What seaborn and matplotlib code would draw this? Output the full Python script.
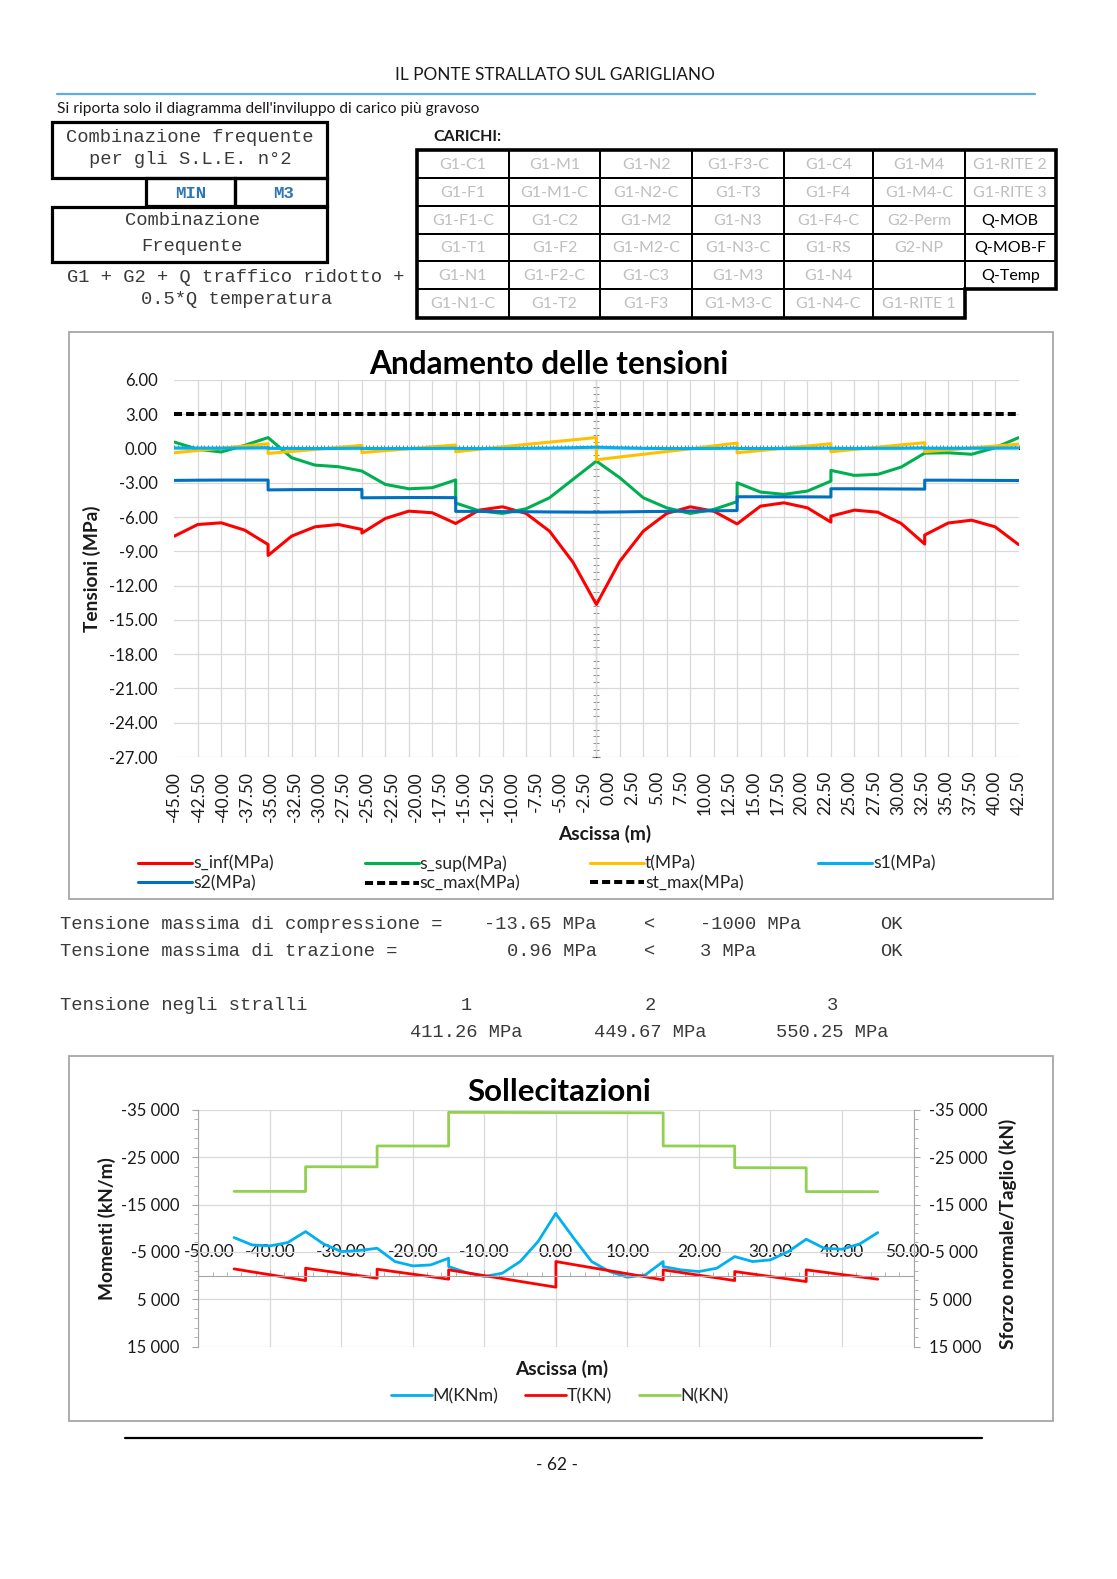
import numpy as np
import matplotlib
matplotlib.use("Agg")
import matplotlib.pyplot as plt
import matplotlib.transforms as mtransforms
from matplotlib.ticker import FixedLocator
from matplotlib.patches import Rectangle, Polygon
import seaborn as sns

# ------------------------------------------------------------------ data
# abscissa (m) with double points at section changes
x_pos = [-45, -42.5, -40, -37.5, -35,
         -35, -32.5, -30, -27.5, -25,
         -25, -22.5, -20, -17.5, -15,
         -15, -12.5, -10, -7.5, -5, -2.5, 0,
         0, 2.5, 5, 7.5, 10, 12.5, 15,
         15, 17.5, 20, 22.5, 25,
         25, 27.5, 30, 32.5, 35,
         35, 37.5, 40, 42.5, 45]

s_inf = [-7.67, -6.65, -6.50, -7.14, -8.40,
         -9.36, -7.67, -6.85, -6.65, -7.08,
         -7.40, -6.12, -5.48, -5.62, -6.56,
         -6.56, -5.39, -5.10, -5.68, -7.23, -9.95, -13.65,
         -13.65, -9.86, -7.23, -5.68, -5.10, -5.48, -6.60,
         -6.60, -5.04, -4.75, -5.19, -6.44,
         -5.92, -5.39, -5.57, -6.56, -8.36,
         -7.57, -6.52, -6.27, -6.85, -8.40]

s_sup = [0.57, -0.07, -0.30, 0.28, 0.96,
         0.96, -0.80, -1.45, -1.59, -1.97,
         -1.97, -3.14, -3.52, -3.43, -2.75,
         -4.77, -5.45, -5.68, -5.27, -4.31, -2.70, -1.10,
         -1.10, -2.56, -4.31, -5.19, -5.68, -5.33, -4.65,
         -3.00, -3.81, -4.01, -3.72, -2.85,
         -1.91, -2.35, -2.26, -1.62, -0.40,
         -0.40, -0.37, -0.50, 0.07, 0.95]

t_val = [-0.37, -0.17, 0.03, 0.22, 0.42,
         -0.43, -0.25, -0.08, 0.10, 0.28,
         -0.35, -0.18, -0.02, 0.15, 0.31,
         -0.28, -0.06, 0.15, 0.36, 0.56, 0.76, 0.96,
         -0.98, -0.74, -0.50, -0.26, -0.02, 0.23, 0.48,
         -0.37, -0.17, 0.03, 0.22, 0.42,
         -0.28, -0.08, 0.12, 0.32, 0.51,
         -0.28, -0.11, 0.05, 0.22, 0.38]

s1_val = [0.05, 0.04, 0.03, 0.05, 0.08,
          0.02, 0.01, 0.00, 0.01, 0.03,
          0.01, 0.00, 0.00, 0.01, 0.03,
          0.01, 0.00, 0.00, 0.02, 0.04, 0.07, 0.12,
          0.12, 0.06, 0.02, 0.00, 0.00, 0.01, 0.04,
          0.01, 0.00, 0.01, 0.02, 0.04,
          0.02, 0.01, 0.02, 0.03, 0.06,
          0.03, 0.02, 0.03, 0.04, 0.06]

s2_val = [-2.79, -2.77, -2.76, -2.76, -2.76,
          -3.62, -3.60, -3.59, -3.59, -3.58,
          -4.31, -4.30, -4.29, -4.29, -4.30,
          -5.50, -5.50, -5.52, -5.53, -5.55, -5.56, -5.57,
          -5.57, -5.55, -5.52, -5.50, -5.47, -5.45, -5.43,
          -4.22, -4.22, -4.23, -4.23, -4.24,
          -3.52, -3.52, -3.53, -3.54, -3.55,
          -2.77, -2.77, -2.78, -2.79, -2.80]

limit_x = [-45, 45]
sc_max = [-1000, -1000]
st_max = [3, 3]

# internal actions
M_val = [-8030, -6480, -6270, -6970, -9300,
         -9300, -6690, -5070, -5300, -5770,
         -5770, -2960, -2040, -2250, -3660,
         -1900, -630, 200, -490, -2960, -7180, -13170,
         -13030, -7890, -2960, -850, 350, -140, -2960,
         -1900, -1200, -850, -1550, -4010,
         -4010, -2960, -3310, -5070, -7680,
         -7680, -5770, -5560, -6690, -9080]

T_val = [-1410, -790, -180, 440, 1060,
         -1550, -1020, -500, 30, 560,
         -1340, -810, -290, 240, 770,
         -1200, -590, 20, 630, 1240, 1850, 2460,
         -2960, -2310, -1670, -1020, -380, 270, 920,
         -1200, -640, -70, 490, 1060,
         -850, -320, 210, 740, 1270,
         -1200, -710, -210, 280, 770]

N_val = [-17800, -17800, -17790, -17790, -17780,
         -23000, -23000, -22990, -22990, -22980,
         -27400, -27400, -27390, -27390, -27380,
         -34500, -34500, -34490, -34480, -34470, -34460, -34450,
         -34450, -34440, -34440, -34430, -34420, -34410, -34400,
         -27400, -27390, -27390, -27380, -27380,
         -22800, -22800, -22790, -22790, -22780,
         -17750, -17750, -17740, -17740, -17730]

x_tick_labels1 = np.arange(-45.0, 45.0, 2.5)        # 36 labels shown
y_ticks1 = np.arange(-27, 6.01, 3)
x_ticks2 = np.arange(-50, 50.01, 10)
y_ticks2 = [-35000, -25000, -15000, -5000, 5000, 15000]

table_labels = [
    ["G1-C1", "G1-M1", "G1-N2", "G1-F3-C", "G1-C4", "G1-M4", "G1-RITE 2"],
    ["G1-F1", "G1-M1-C", "G1-N2-C", "G1-T3", "G1-F4", "G1-M4-C", "G1-RITE 3"],
    ["G1-F1-C", "G1-C2", "G1-M2", "G1-N3", "G1-F4-C", "G2-Perm", "Q-MOB"],
    ["G1-T1", "G1-F2", "G1-M2-C", "G1-N3-C", "G1-RS", "G2-NP", "Q-MOB-F"],
    ["G1-N1", "G1-F2-C", "G1-C3", "G1-M3", "G1-N4", "", "Q-Temp"],
    ["G1-N1-C", "G1-T2", "G1-F3", "G1-M3-C", "G1-N4-C", "G1-RITE 1"],
]
active_loads = ["Q-MOB", "Q-MOB-F", "Q-Temp"]

sig_c_max, sig_c_lim = -13.65, -1000
sig_t_max, sig_t_lim = 0.96, 3
stralli_id = [1, 2, 3]
stralli_val = [411.26, 449.67, 550.25]

# ------------------------------------------------------------------ style
sns.set_style("white")
plt.rcParams['font.family'] = ['Lato', 'DejaVu Sans']
plt.rcParams['axes.unicode_minus'] = False
MONO = ['Liberation Mono', 'DejaVu Sans Mono']
TXT = '#1a1a1a'
MTXT = '#3a3a3a'
GRID = '#D9D9D9'
AXLAB = 13.8

W, H = 1117, 1579
fig = plt.figure(figsize=(W / 100, H / 100), dpi=100)
fig.patch.set_facecolor('white')


def rect(x0, y0, x1, y1):
    return [x0 / W, 1 - y1 / H, (x1 - x0) / W, (y1 - y0) / H]


page = fig.add_axes([0, 0, 1, 1], zorder=0)
page.set_xlim(0, W)
page.set_ylim(H, 0)
page.axis('off')

# header
page.text(555, 75.5, "IL PONTE STRALLATO SUL GARIGLIANO", ha='center', va='center',
          fontsize=12.4, color=TXT)
page.plot([57.4, 1035.4], [93.7, 93.7], color='#5DADE2', lw=1.6)
page.text(57.4, 108.5, "Si riporta solo il diagramma dell'inviluppo di carico più gravoso",
          ha='left', va='center', fontsize=11.2, color=TXT)

# left boxes
bw = 2.3
page.add_patch(Rectangle((52.4, 121.9), 274.9, 56.4, fill=False, ec='black', lw=bw))
page.add_patch(Rectangle((146, 178.3), 88.7, 28.2, fill=False, ec='black', lw=bw))
page.add_patch(Rectangle((234.7, 178.3), 92.6, 28.2, fill=False, ec='black', lw=bw))
page.add_patch(Rectangle((52.4, 206.5), 274.9, 55.4, fill=False, ec='black', lw=bw))
mk = dict(ha='center', va='center', family=MONO, fontsize=13.5, color=MTXT)
page.text(190, 138, "Combinazione frequente", **mk)
page.text(190, 159, "per gli S.L.E. n°2", **mk)
page.text(191, 193.4, "MIN", ha='center', va='center', family=MONO, fontsize=12.5,
          fontweight='bold', color='#2E75B6')
page.text(283, 193.4, "M3", ha='center', va='center', family=MONO, fontsize=12.5,
          fontweight='bold', color='#2E75B6')
page.text(192, 220.6, "Combinazione", **mk)
page.text(192, 246.8, "Frequente", **mk)
page.text(236, 278, "G1 + G2 + Q traffico ridotto +", **mk)
page.text(237, 299, "0.5*Q temperatura", **mk)

# loads table
page.text(433, 137, "CARICHI:", ha='left', va='center', fontsize=11.5,
          fontweight='bold', color=TXT)
col_x = [417.0, 508.6, 600.3, 692.0, 783.6, 873.2, 964.9, 1055.5]
row_y = [149.5, 178.0, 206.0, 233.5, 261.0, 289.0, 318.0]
for r, row in enumerate(table_labels):
    for c, lab in enumerate(row):
        x0, x1 = col_x[c], col_x[c + 1]
        y0, y1 = row_y[r], row_y[r + 1]
        page.add_patch(Rectangle((x0, y0), x1 - x0, y1 - y0, fill=False,
                                 ec='black', lw=1.4))
        if lab:
            col = 'black' if lab in active_loads else '#BFBFBF'
            page.text((x0 + x1) / 2, (y0 + y1) / 2 + 1, lab, ha='center',
                      va='center', fontsize=11.5, color=col)
outline = [(col_x[0], row_y[0]), (col_x[7], row_y[0]), (col_x[7], row_y[5]),
           (col_x[6], row_y[5]), (col_x[6], row_y[6]), (col_x[0], row_y[6])]
page.add_patch(Polygon(outline, closed=True, fill=False, ec='black', lw=2.6))

# chart frames
page.add_patch(Rectangle((68.5, 332.4), 984, 567, fill=False, ec='#A6A6A6', lw=1.3))
page.add_patch(Rectangle((68.5, 1055.5), 984, 365.5, fill=False, ec='#A6A6A6', lw=1.3))
page.text(549, 364, "Andamento delle tensioni", ha='center', va='center',
          fontsize=22.8, fontweight='bold', color='black')
page.text(559, 1092, "Sollecitazioni", ha='center', va='center',
          fontsize=22.5, fontweight='bold', color='black')

# ------------------------------------------------------------------ chart 1
ax1 = fig.add_axes(rect(174.3, 380, 1018.5, 757), zorder=2)
ax1.set_facecolor('none')
series1 = [("s_inf(MPa)", s_inf, "#FF0000"),
           ("s_sup(MPa)", s_sup, "#00B050"),
           ("t(MPa)", t_val, "#FFC000"),
           ("s1(MPa)", s1_val, "#00B0F0"),
           ("s2(MPa)", s2_val, "#0070C0")]
h1 = {}
for name, vals, col in series1:
    sns.lineplot(x=x_pos, y=vals, ax=ax1, color=col, lw=2.2, estimator=None,
                 sort=False, legend=False)
    ln = ax1.lines[-1]
    ln.set_label(name)
    h1[name] = ln
for name, vals in [("sc_max(MPa)", sc_max), ("st_max(MPa)", st_max)]:
    sns.lineplot(x=limit_x, y=vals, ax=ax1, color='black', lw=2.9,
                 estimator=None, sort=False, legend=False)
    ln = ax1.lines[-1]
    ln.set_dashes((2.0, 1.0))
    ln.set_label(name)
    h1[name] = ln

ax1.set_xlim(-45, 45)
ax1.set_ylim(-27, 6)
ax1.set_yticks(y_ticks1)
ax1.set_yticklabels([f"{v:.2f}" for v in y_ticks1])
lab_pos = np.linspace(-45, 45, len(x_tick_labels1))
ax1.set_xticks(lab_pos)
ax1.set_xticklabels([f"{v:.2f}" for v in x_tick_labels1], rotation=90)
ax1.set_xticks(np.arange(-45, 45.01, 2.5), minor=True)
ax1.tick_params(axis='both', which='both', length=0, labelsize=12, labelcolor=TXT)
ax1.tick_params(axis='x', labelsize=12.5)
ax1.tick_params(axis='y', pad=12)
ax1.tick_params(axis='x', pad=10)
ax1.grid(False)
ax1.grid(True, which='minor', axis='x', color=GRID, lw=0.9)
ax1.grid(True, which='major', axis='y', color=GRID, lw=0.9)
ax1.set_axisbelow(True)
for s in ax1.spines.values():
    s.set_visible(False)
ax1.set_ylabel("Tensioni (MPa)", fontsize=AXLAB, fontweight='bold', color=TXT)
ax1.yaxis.set_label_coords(-0.0868, 0.5)
ax1.set_xlabel("Ascissa (m)", fontsize=AXLAB, fontweight='bold', color=TXT)
ax1.xaxis.set_label_coords(0.51, -0.181)

# zero axes drawn through the origin
sy = ax1.secondary_yaxis(0.5)
sy.set_yticks(y_ticks1)
sy.set_yticklabels([])
sy.yaxis.set_minor_locator(FixedLocator(np.arange(-27, 6.01, 0.6)))
sy.tick_params(which='major', direction='inout', length=6, color='#7F7F7F')
sy.tick_params(which='minor', direction='inout', length=4, color='#7F7F7F')
sy.spines['left'].set_color('#7F7F7F')
sx = ax1.secondary_xaxis(27 / 33)
sx.set_xticks(np.linspace(-45, 45, 226))
sx.set_xticklabels([])
sx.tick_params(direction='out', length=3, color='#7F7F7F')
sx.spines['bottom'].set_color('#7F7F7F')

leg_cols = [(138, ["s_inf(MPa)", "s2(MPa)"]),
            (364.6, ["s_sup(MPa)", "sc_max(MPa)"]),
            (590, ["t(MPa)", "st_max(MPa)"]),
            (818, ["s1(MPa)"])]
for xp, names in leg_cols:
    fig.legend([h1[n] for n in names], names, loc='upper left',
               bbox_to_anchor=(xp / W, 1 - 855.5 / H), frameon=False,
               borderpad=0, borderaxespad=0, handlelength=3.1,
               handletextpad=0.05, labelspacing=0.2, fontsize=12.6)

# text block
ty1, ty2 = 924.6, 951.8
kw = dict(family=MONO, fontsize=13.5, color=MTXT, va='center')
page.text(60.4, ty1, "Tensione massima di compressione =", ha='left', **kw)
page.text(597, ty1, f"{sig_c_max:.2f} MPa", ha='right', **kw)
page.text(650, ty1, "<", ha='center', **kw)
page.text(700, ty1, f"{sig_c_lim} MPa", ha='left', **kw)
page.text(891, ty1, "OK", ha='center', **kw)
page.text(60.4, ty2, "Tensione massima di trazione =", ha='left', **kw)
page.text(597, ty2, f"{sig_t_max:.2f} MPa", ha='right', **kw)
page.text(650, ty2, "<", ha='center', **kw)
page.text(700, ty2, f"{sig_t_lim} MPa", ha='left', **kw)
page.text(891, ty2, "OK", ha='center', **kw)
page.text(60.4, 1005, "Tensione negli stralli", ha='left', **kw)
for xc, sid, sv in zip([466, 650, 832], stralli_id, stralli_val):
    page.text(xc, 1005, f"{sid}", ha='center', **kw)
    page.text(xc, 1032.4, f"{sv:.2f} MPa", ha='center', **kw)

# ------------------------------------------------------------------ chart 2
ax2 = fig.add_axes(rect(198.3, 1110, 913.5, 1346.5), zorder=2)
ax2.set_facecolor('none')
series2 = [("M(KNm)", M_val, "#00B0F0"),
           ("T(KN)", T_val, "#FF0000"),
           ("N(KN)", N_val, "#92D050")]
h2 = []
for name, vals, col in series2:
    sns.lineplot(x=x_pos, y=vals, ax=ax2, color=col, lw=2.0, estimator=None,
                 sort=False, legend=False)
    ln = ax2.lines[-1]
    ln.set_label(name)
    h2.append(ln)
ax2.set_xlim(-50, 50)
ax2.set_ylim(15000, -35000)


def kfmt(v):
    return f"{v:,.0f}".replace(",", " ")


ax2.set_yticks(y_ticks2)
ax2.set_yticklabels([kfmt(v) for v in y_ticks2])
ax2.yaxis.set_minor_locator(FixedLocator(np.arange(-35000, 15001, 2000)))
ax2.set_xticks(x_ticks2)
ax2.set_xticklabels([f"{v:.2f}" for v in x_ticks2])
ax2.xaxis.set_minor_locator(FixedLocator(np.arange(-50, 50.01, 2)))
ax2.grid(False)
ax2.grid(True, which='major', axis='both', color=GRID, lw=0.9)
ax2.set_axisbelow(True)
ax2.spines['top'].set_position(('data', 0))
ax2.spines['bottom'].set_visible(False)
ax2.spines['right'].set_visible(False)
for s in ['top', 'left']:
    ax2.spines[s].set_color('#A6A6A6')
ax2.xaxis.set_ticks_position('top')
ax2.tick_params(axis='x', which='both', top=True, bottom=False, labeltop=True,
                labelbottom=False, direction='out', color='#A6A6A6')
ax2.tick_params(axis='x', which='major', length=4, pad=7.5, labelsize=12.5,
                labelcolor=TXT)
ax2.tick_params(axis='x', which='minor', length=3)
ax2.tick_params(axis='y', which='both', left=True, direction='out', color='#A6A6A6')
ax2.tick_params(axis='y', which='major', length=4, pad=9.5, labelsize=12,
                labelcolor=TXT)
ax2.tick_params(axis='y', which='minor', length=3)
ax2.set_ylabel("Momenti (kN/m)", fontsize=AXLAB, fontweight='bold', color=TXT)
ax2.yaxis.set_label_coords(-0.1144, 0.5)
ax2.xaxis.set_label_position('bottom')
ax2.set_xlabel("Ascissa (m)", fontsize=AXLAB, fontweight='bold', color=TXT)
ax2.xaxis.set_label_coords(0.508, -0.058)

ax2r = ax2.twinx()
ax2r.set_ylim(15000, -35000)
ax2r.set_yticks(y_ticks2)
ax2r.set_yticklabels([kfmt(v) for v in y_ticks2])
ax2r.yaxis.set_minor_locator(FixedLocator(np.arange(-35000, 15001, 2000)))
for s in ['top', 'bottom', 'left']:
    ax2r.spines[s].set_visible(False)
ax2r.spines['right'].set_color('#A6A6A6')
ax2r.tick_params(axis='y', which='both', right=True, direction='out', color='#A6A6A6')
ax2r.tick_params(axis='y', which='major', length=4, pad=7, labelsize=12,
                 labelcolor=TXT)
ax2r.tick_params(axis='y', which='minor', length=3)
ax2r.set_ylabel("Sforzo normale/Taglio (kN)", fontsize=AXLAB, fontweight='bold',
                color=TXT)
ax2r.yaxis.set_label_coords(1.119, 0.476)

fig.legend(h2, [h.get_label() for h in h2], loc='center', ncol=3,
           bbox_to_anchor=(560 / W, 1 - 1396 / H), frameon=False, borderpad=0,
           handlelength=2.3, handletextpad=0.05, columnspacing=1.5, fontsize=12.8)

# footer
page.plot([124.9, 982], [1438, 1438], color='black', lw=1.6)
page.text(557, 1465.5, "- 62 -", ha='center', va='center', fontsize=12.5, color=TXT)

# nudge the two end labels of the moment-chart x axis away from the y labels
xt = ax2.xaxis.get_major_ticks()
for tick, dx in [(xt[0], 11), (xt[-1], -6)]:
    lab = tick.label2
    lab.set_transform(lab.get_transform() +
                      mtransforms.ScaledTranslation(dx / 100, 0, fig.dpi_scale_trans))

fig.savefig("out.png", dpi=100)
